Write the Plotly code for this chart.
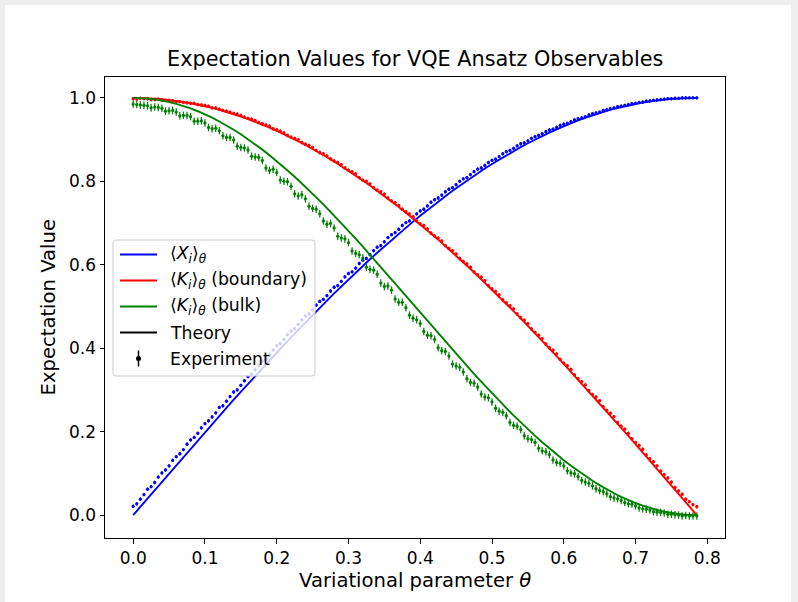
import plotly.graph_objects as go

# ---------------- data ----------------
theta = [0.00, 0.01, 0.02, 0.03, 0.04, 0.05, 0.06, 0.07, 0.08, 0.09,
         0.10, 0.11, 0.12, 0.13, 0.14, 0.15, 0.16, 0.17, 0.18, 0.19,
         0.20, 0.21, 0.22, 0.23, 0.24, 0.25, 0.26, 0.27, 0.28, 0.29,
         0.30, 0.31, 0.32, 0.33, 0.34, 0.35, 0.36, 0.37, 0.38, 0.39,
         0.40, 0.41, 0.42, 0.43, 0.44, 0.45, 0.46, 0.47, 0.48, 0.49,
         0.50, 0.51, 0.52, 0.53, 0.54, 0.55, 0.56, 0.57, 0.58, 0.59,
         0.60, 0.61, 0.62, 0.63, 0.64, 0.65, 0.66, 0.67, 0.68, 0.69,
         0.70, 0.71, 0.72, 0.73, 0.74, 0.75, 0.76, 0.77, 0.78, 0.7854]

theta_h = [0.005, 0.015, 0.025, 0.035, 0.045, 0.055, 0.065, 0.075, 0.085, 0.095,
           0.105, 0.115, 0.125, 0.135, 0.145, 0.155, 0.165, 0.175, 0.185, 0.195,
           0.205, 0.215, 0.225, 0.235, 0.245, 0.255, 0.265, 0.275, 0.285, 0.295,
           0.305, 0.315, 0.325, 0.335, 0.345, 0.355, 0.365, 0.375, 0.385, 0.395,
           0.405, 0.415, 0.425, 0.435, 0.445, 0.455, 0.465, 0.475, 0.485, 0.495,
           0.505, 0.515, 0.525, 0.535, 0.545, 0.555, 0.565, 0.575, 0.585, 0.595,
           0.605, 0.615, 0.625, 0.635, 0.645, 0.655, 0.665, 0.675, 0.685, 0.695,
           0.705, 0.715, 0.725, 0.735, 0.745, 0.755, 0.765, 0.775]

x_theory = [0.0, 0.02, 0.04, 0.06, 0.0799, 0.0998, 0.1197, 0.1395, 0.1593, 0.179,
            0.1987, 0.2182, 0.2377, 0.2571, 0.2764, 0.2955, 0.3146, 0.3335, 0.3523, 0.3709,
            0.3894, 0.4078, 0.4259, 0.4439, 0.4618, 0.4794, 0.4969, 0.5141, 0.5312, 0.548,
            0.5646, 0.581, 0.5972, 0.6131, 0.6288, 0.6442, 0.6594, 0.6743, 0.6889, 0.7033,
            0.7174, 0.7311, 0.7446, 0.7578, 0.7707, 0.7833, 0.7956, 0.8076, 0.8192, 0.8305,
            0.8415, 0.8521, 0.8624, 0.8724, 0.882, 0.8912, 0.9001, 0.9086, 0.9168, 0.9246,
            0.932, 0.9391, 0.9458, 0.9521, 0.958, 0.9636, 0.9687, 0.9735, 0.9779, 0.9819,
            0.9854, 0.9887, 0.9915, 0.9939, 0.9959, 0.9975, 0.9987, 0.9995, 0.9999, 1.0]

kb_theory = [1.0, 0.9998, 0.9992, 0.9982, 0.9968, 0.995, 0.9928, 0.9902, 0.9872, 0.9838,
             0.9801, 0.9759, 0.9713, 0.9664, 0.9611, 0.9553, 0.9492, 0.9428, 0.9359, 0.9287,
             0.9211, 0.9131, 0.9048, 0.8961, 0.887, 0.8776, 0.8678, 0.8577, 0.8473, 0.8365,
             0.8253, 0.8139, 0.8021, 0.79, 0.7776, 0.7648, 0.7518, 0.7385, 0.7248, 0.7109,
             0.6967, 0.6822, 0.6675, 0.6524, 0.6372, 0.6216, 0.6058, 0.5898, 0.5735, 0.557,
             0.5403, 0.5234, 0.5062, 0.4889, 0.4713, 0.4536, 0.4357, 0.4176, 0.3993, 0.3809,
             0.3624, 0.3436, 0.3248, 0.3058, 0.2867, 0.2675, 0.2482, 0.2288, 0.2092, 0.1896,
             0.17, 0.1502, 0.1304, 0.1106, 0.0907, 0.0707, 0.0508, 0.0308, 0.0108, 0.0]

kk_theory = [1.0, 0.9996, 0.9984, 0.9964, 0.9936, 0.99, 0.9857, 0.9805, 0.9746, 0.9679,
             0.9606, 0.9524, 0.9434, 0.9339, 0.9237, 0.9126, 0.901, 0.8889, 0.8759, 0.8625,
             0.8484, 0.8337, 0.8187, 0.803, 0.7868, 0.7702, 0.7531, 0.7357, 0.7179, 0.6997,
             0.6811, 0.6624, 0.6434, 0.6241, 0.6047, 0.5849, 0.5652, 0.5454, 0.5253, 0.5054,
             0.4854, 0.4654, 0.4456, 0.4256, 0.406, 0.3864, 0.367, 0.3479, 0.3289, 0.3102,
             0.2919, 0.274, 0.2562, 0.239, 0.2221, 0.2058, 0.1898, 0.1744, 0.1594, 0.1451,
             0.1313, 0.1181, 0.1055, 0.0935, 0.0822, 0.0716, 0.0616, 0.0523, 0.0438, 0.0359,
             0.0289, 0.0226, 0.017, 0.0122, 0.0082, 0.005, 0.0026, 0.0009, 0.0001, 0.0]

# experiment, on the theta grid
x_exp = [0.021, 0.038, 0.062, 0.078, 0.101, 0.118, 0.140, 0.157, 0.180, 0.196,
         0.219, 0.235, 0.258, 0.273, 0.295, 0.311, 0.332, 0.348, 0.369, 0.384,
         0.406, 0.421, 0.441, 0.457, 0.477, 0.492, 0.512, 0.526, 0.546, 0.560,
         0.579, 0.592, 0.611, 0.624, 0.642, 0.655, 0.672, 0.685, 0.701, 0.713,
         0.729, 0.741, 0.756, 0.767, 0.781, 0.792, 0.806, 0.816, 0.829, 0.838,
         0.850, 0.859, 0.871, 0.879, 0.890, 0.897, 0.907, 0.914, 0.923, 0.929,
         0.937, 0.943, 0.950, 0.955, 0.962, 0.966, 0.972, 0.976, 0.980, 0.984,
         0.987, 0.990, 0.993, 0.995, 0.997, 0.998, 0.999, 1.000, 1.000, 1.000]

kb_exp = [0.998, 0.999, 0.998, 0.996, 0.995, 0.994, 0.991, 0.989, 0.987, 0.984,
          0.982, 0.976, 0.973, 0.968, 0.963, 0.958, 0.951, 0.946, 0.938, 0.932,
          0.924, 0.916, 0.906, 0.900, 0.889, 0.881, 0.869, 0.861, 0.849, 0.840,
          0.827, 0.818, 0.803, 0.794, 0.779, 0.769, 0.753, 0.742, 0.727, 0.715,
          0.698, 0.686, 0.669, 0.657, 0.639, 0.626, 0.608, 0.594, 0.576, 0.562,
          0.542, 0.528, 0.509, 0.494, 0.473, 0.459, 0.438, 0.423, 0.401, 0.386,
          0.364, 0.349, 0.327, 0.312, 0.289, 0.274, 0.251, 0.236, 0.213, 0.196,
          0.174, 0.158, 0.135, 0.118, 0.097, 0.079, 0.058, 0.038, 0.025, 0.020]

kk_exp = [0.985, 0.983, 0.981, 0.978, 0.975, 0.969, 0.966, 0.958, 0.955, 0.944,
          0.940, 0.926, 0.921, 0.905, 0.899, 0.881, 0.875, 0.858, 0.850, 0.826,
          0.821, 0.800, 0.788, 0.765, 0.758, 0.735, 0.722, 0.697, 0.688, 0.664,
          0.653, 0.627, 0.616, 0.589, 0.577, 0.548, 0.539, 0.510, 0.497, 0.472,
          0.459, 0.431, 0.421, 0.394, 0.381, 0.357, 0.343, 0.318, 0.307, 0.283,
          0.271, 0.249, 0.238, 0.215, 0.205, 0.183, 0.174, 0.154, 0.145, 0.126,
          0.118, 0.101, 0.092, 0.079, 0.070, 0.059, 0.051, 0.041, 0.035, 0.027,
          0.022, 0.015, 0.012, 0.007, 0.005, 0.002, 0.000, -0.001, -0.002, -0.002]

# experiment, on the half-step grid
x_exp_h = [0.027, 0.049, 0.068, 0.091, 0.108, 0.131, 0.147, 0.170, 0.186, 0.209,
           0.226, 0.245, 0.262, 0.284, 0.300, 0.322, 0.337, 0.359, 0.374, 0.396,
           0.411, 0.432, 0.447, 0.468, 0.482, 0.503, 0.517, 0.537, 0.550, 0.571,
           0.583, 0.603, 0.615, 0.634, 0.646, 0.665, 0.677, 0.694, 0.705, 0.722,
           0.733, 0.750, 0.760, 0.775, 0.785, 0.800, 0.809, 0.823, 0.832, 0.845,
           0.853, 0.866, 0.874, 0.885, 0.892, 0.903, 0.910, 0.919, 0.925, 0.934,
           0.939, 0.947, 0.952, 0.959, 0.964, 0.970, 0.974, 0.979, 0.982, 0.986,
           0.989, 0.992, 0.994, 0.996, 0.998, 0.999, 1.000, 1.000]

kb_exp_h = [0.997, 0.998, 0.996, 0.997, 0.994, 0.993, 0.991, 0.988, 0.987, 0.983,
            0.980, 0.976, 0.970, 0.966, 0.961, 0.954, 0.949, 0.941, 0.935, 0.926,
            0.920, 0.910, 0.903, 0.893, 0.886, 0.874, 0.866, 0.854, 0.845, 0.832,
            0.823, 0.809, 0.800, 0.785, 0.775, 0.760, 0.749, 0.733, 0.722, 0.705,
            0.694, 0.676, 0.664, 0.646, 0.634, 0.615, 0.602, 0.583, 0.570, 0.550,
            0.536, 0.516, 0.502, 0.482, 0.467, 0.446, 0.431, 0.410, 0.395, 0.373,
            0.358, 0.336, 0.320, 0.298, 0.283, 0.260, 0.244, 0.222, 0.206, 0.183,
            0.167, 0.144, 0.128, 0.105, 0.089, 0.066, 0.050, 0.032]

kk_exp_h = [0.984, 0.982, 0.976, 0.977, 0.968, 0.970, 0.957, 0.958, 0.944, 0.945,
            0.929, 0.927, 0.909, 0.905, 0.884, 0.880, 0.860, 0.857, 0.832, 0.829,
            0.803, 0.799, 0.770, 0.768, 0.740, 0.733, 0.705, 0.699, 0.668, 0.662,
            0.633, 0.624, 0.594, 0.587, 0.556, 0.549, 0.518, 0.510, 0.479, 0.468,
            0.440, 0.430, 0.401, 0.392, 0.362, 0.354, 0.327, 0.316, 0.290, 0.281,
            0.256, 0.246, 0.222, 0.213, 0.190, 0.181, 0.160, 0.152, 0.132, 0.124,
            0.106, 0.099, 0.083, 0.076, 0.063, 0.056, 0.044, 0.039, 0.030, 0.026,
            0.017, 0.014, 0.008, 0.006, 0.002, 0.001, -0.002, -0.002]

x_err, kb_err, kk_err = 0.004, 0.004, 0.009

x_ticks = [0.0, 0.1, 0.2, 0.3, 0.4, 0.5, 0.6, 0.7, 0.8]
y_ticks = [0.0, 0.2, 0.4, 0.6, 0.8, 1.0]

legend_labels = ["⟨<i>X</i><sub><i>i</i></sub>⟩<sub><i>θ</i></sub>",
                 "⟨<i>K</i><sub><i>i</i></sub>⟩<sub><i>θ</i></sub> (boundary)",
                 "⟨<i>K</i><sub><i>i</i></sub>⟩<sub><i>θ</i></sub> (bulk)",
                 "Theory", "Experiment"]
legend_colors = ["#0000ff", "#ff0000", "#008000", "#000000"]

# ---------------- layout geometry (pixels) ----------------
W, H = 798, 602
L, R, T, B = 105, 73, 77, 64
PW, PH = W - L - R, H - T - B
FONT = "DejaVu Sans"
TICK_SIZE, LEG_SIZE, LABEL_SIZE, TITLE_SIZE = 17, 17.3, 19.6, 20.8


def px(xp):
    return (xp - L) / PW


def py(yp):
    return (H - B - yp) / PH


fig = go.Figure()

series = [
    (x_theory, x_exp, x_exp_h, x_err, "#0000ff"),
    (kb_theory, kb_exp, kb_exp_h, kb_err, "#ff0000"),
    (kk_theory, kk_exp, kk_exp_h, kk_err, "#008000"),
]
for thy, ex, exh, er, col in series:
    fig.add_trace(go.Scatter(x=theta, y=thy, mode="lines",
                             line=dict(color=col, width=1.9),
                             showlegend=False, hoverinfo="skip"))
    fig.add_trace(go.Scatter(x=theta + theta_h, y=ex + exh, mode="markers",
                             marker=dict(color=col, size=3.3, line=dict(width=0)),
                             error_y=dict(type="constant", value=er, color=col,
                                          thickness=1.2, width=0),
                             showlegend=False, hoverinfo="skip"))

shapes = []
# white figure area on grey page
shapes.append(dict(type="rect", xref="paper", yref="paper", layer="below",
                   x0=px(5), x1=px(791), y0=py(602), y1=py(5),
                   fillcolor="white", line=dict(width=0)))

# legend box with rounded corners
bx0, bx1, by0, by1 = px(113), px(315), py(376), py(240)
rx, ry = 3 / PW, 3 / PH
path = (f"M {bx0+rx},{by1} L {bx1-rx},{by1} Q {bx1},{by1} {bx1},{by1-ry} "
        f"L {bx1},{by0+ry} Q {bx1},{by0} {bx1-rx},{by0} "
        f"L {bx0+rx},{by0} Q {bx0},{by0} {bx0},{by0+ry} "
        f"L {bx0},{by1-ry} Q {bx0},{by1} {bx0+rx},{by1} Z")
shapes.append(dict(type="path", xref="paper", yref="paper", layer="above",
                   path=path, fillcolor="rgba(255,255,255,0.8)",
                   line=dict(color="#cccccc", width=1)))

row_y = [254.5, 280.5, 306.5, 332.5, 358.5]
for i, col in enumerate(legend_colors):
    shapes.append(dict(type="line", xref="paper", yref="paper", layer="above",
                       x0=px(120), x1=px(157), y0=py(row_y[i]), y1=py(row_y[i]),
                       line=dict(color=col, width=1.9)))
# experiment handle: errorbar + dot
shapes.append(dict(type="line", xref="paper", yref="paper", layer="above",
                   x0=px(138.5), x1=px(138.5), y0=py(row_y[4] + 8), y1=py(row_y[4] - 8),
                   line=dict(color="black", width=1.5)))
shapes.append(dict(type="circle", xref="paper", yref="paper", layer="above",
                   x0=px(136), x1=px(141), y0=py(row_y[4] + 2.5), y1=py(row_y[4] - 2.5),
                   fillcolor="black", line=dict(width=0)))

annotations = []
for i, lab in enumerate(legend_labels):
    annotations.append(dict(text=lab, xref="paper", yref="paper",
                            x=px(168), y=py(row_y[i]), xanchor="left", yanchor="middle",
                            showarrow=False,
                            font=dict(family=FONT, size=LEG_SIZE, color="black")))
annotations.append(dict(text="Expectation Values for VQE Ansatz Observables",
                        xref="paper", yref="paper", x=0.5, y=py(59),
                        xanchor="center", yanchor="middle", showarrow=False,
                        font=dict(family=FONT, size=TITLE_SIZE, color="black")))
annotations.append(dict(text="Variational parameter <i>θ</i>",
                        xref="paper", yref="paper", x=0.5, y=py(580),
                        xanchor="center", yanchor="middle", showarrow=False,
                        font=dict(family=FONT, size=LABEL_SIZE, color="black")))
annotations.append(dict(text="Expectation Value", textangle=-90,
                        xref="paper", yref="paper", x=px(48), y=0.5,
                        xanchor="center", yanchor="middle", showarrow=False,
                        font=dict(family=FONT, size=LABEL_SIZE, color="black")))

axis_common = dict(showline=True, mirror=True, linecolor="black", linewidth=1,
                   ticks="outside", ticklen=4.5, tickwidth=1, tickcolor="black",
                   showgrid=False, zeroline=False,
                   tickfont=dict(family=FONT, size=TICK_SIZE, color="black"))

fig.update_layout(
    width=W, height=H,
    margin=dict(l=L, r=R, t=T, b=B, pad=0),
    paper_bgcolor="#eeeeee", plot_bgcolor="white",
    showlegend=False,
    xaxis=dict(range=[-0.03927, 0.82467], tickvals=x_ticks, tickformat=".1f", **axis_common),
    yaxis=dict(range=[-0.055, 1.050], tickvals=y_ticks, tickformat=".1f", **axis_common),
    shapes=shapes, annotations=annotations,
)

fig.write_html("out.html", config={"displayModeBar": False})
